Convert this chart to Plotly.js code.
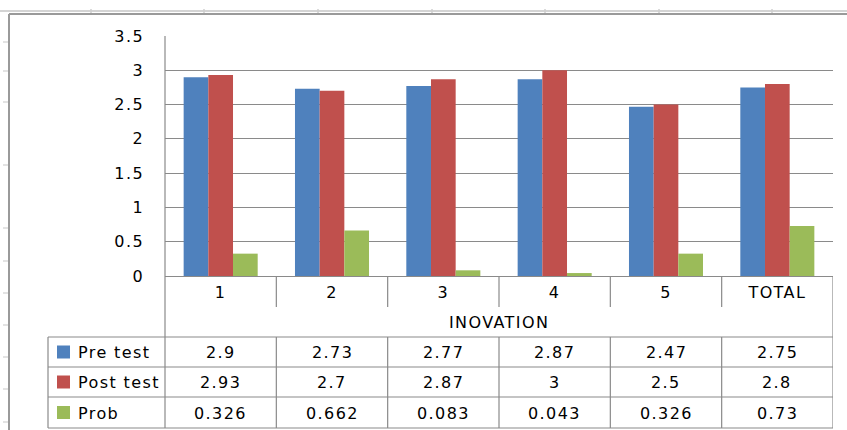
<!DOCTYPE html>
<html>
<head>
<meta charset="utf-8">
<script src="https://cdn.plot.ly/plotly-3.0.1.min.js"></script>
<style>
  html, body { margin: 0; padding: 0; background: #fff; }
  #chart { width: 847px; height: 430px; }
  /* applied page-wide so Plotly's text measurement sees the same spacing */
  svg text { letter-spacing: 1.4px; }
</style>
</head>
<body>
<div id="chart"></div>
<script>
// Scores per innovation item, with the total column
const categories = ['1', '2', '3', '4', '5', 'TOTAL'];
const preTest = [2.9, 2.73, 2.77, 2.87, 2.47, 2.75];
const postTest = [2.93, 2.7, 2.87, 3, 2.5, 2.8];
const prob = [0.326, 0.662, 0.083, 0.043, 0.326, 0.73];
const seriesNames = ['Pre test', 'Post test', 'Prob'];
const axisTitle = 'INOVATION';

const seriesValues = [preTest, postTest, prob];
const seriesColors = ['#4F81BD', '#C0504D', '#9BBB59'];

// Page geometry (pixels) of the plotting area
const W = 847, H = 430;
const L = 165, R = 833, T = 36, B = 276;
const px = x => (x - L) / (R - L);
const py = y => (B - y) / (B - T);

const lineColor = '#8a8a8a';
const font = { family: 'DejaVu Sans, Verdana, sans-serif', size: 16, color: '#000' };

const traces = seriesValues.map((vals, i) => ({
  type: 'bar',
  name: seriesNames[i],
  x: categories,
  y: vals,
  marker: { color: seriesColors[i], line: { width: 0 } },
  hoverinfo: 'x+y+name'
}));

const shapes = [];
const annotations = [];
const line = (s) => shapes.push(Object.assign({ type: 'line', layer: 'above', line: { color: lineColor, width: 1.2 } }, s));

// Spreadsheet backdrop: column ruler and row ticks
shapes.push({ type: 'line', xref: 'paper', yref: 'paper', x0: px(0), x1: px(W), y0: py(11), y1: py(11),
  line: { color: '#d4d4d4', width: 2 } });
[91, 204, 318, 432, 545, 659, 772].forEach(x => shapes.push({ type: 'line', xref: 'paper', yref: 'paper',
  x0: px(x), x1: px(x), y0: py(9), y1: py(14), line: { color: '#cfcfcf', width: 1.5 } }));
[42, 71, 102, 165, 228, 261, 293, 325, 357, 389, 422].forEach(y => shapes.push({ type: 'line', xref: 'paper', yref: 'paper',
  x0: px(3), x1: px(8), y0: py(y), y1: py(y), line: { color: '#d0d0d0', width: 1.2 } }));

// Chart frame
line({ xref: 'paper', yref: 'paper', x0: px(9), x1: px(9), y0: py(14), y1: py(H + 2), line: { color: '#9a9a9a', width: 2 } });
line({ xref: 'paper', yref: 'paper', x0: px(9), x1: px(W + 2), y0: py(14), y1: py(14), line: { color: '#9a9a9a', width: 2 } });

// Category row separators under the axis
const n = categories.length;
for (let i = 0; i < n - 1; i++) {
  line({ xref: 'x', yref: 'paper', x0: i + 0.5, x1: i + 0.5, y0: py(B), y1: py(307) });
}
// Left edge of the plot and table, right edge of the table
line({ xref: 'paper', yref: 'paper', x0: 0, x1: 0, y0: py(T), y1: py(428) });
line({ xref: 'x', yref: 'paper', x0: n - 0.5, x1: n - 0.5, y0: py(B), y1: py(428) });

// Data table
const rowLines = [337, 367, 397, 428];
rowLines.forEach(y => line({ xref: 'paper', yref: 'paper', x0: px(48), x1: 1, y0: py(y), y1: py(y) }));
line({ xref: 'paper', yref: 'paper', x0: px(48), x1: px(48), y0: py(337), y1: py(428) });
for (let i = 0; i < n - 1; i++) {
  line({ xref: 'x', yref: 'paper', x0: i + 0.5, x1: i + 0.5, y0: py(337), y1: py(428) });
}

seriesValues.forEach((vals, r) => {
  const yc = (rowLines[r] + rowLines[r + 1]) / 2;
  // legend key and series name
  shapes.push({ type: 'rect', xref: 'paper', yref: 'paper', layer: 'above',
    x0: px(57), x1: px(70), y0: py(yc - 6.5), y1: py(yc + 6.5),
    fillcolor: seriesColors[r], line: { width: 0 } });
  annotations.push({ xref: 'paper', yref: 'paper', x: px(76), y: py(yc + 0.5),
    xanchor: 'left', yanchor: 'middle', showarrow: false, text: seriesNames[r], font });
  // values, one cell per category (placed by category index)
  vals.forEach((v, c) => annotations.push({ xref: 'x', yref: 'paper', x: c, y: py(yc + 0.5),
    xanchor: 'center', yanchor: 'middle', showarrow: false, text: String(v), font }));
});

// Axis title row
annotations.push({ xref: 'paper', yref: 'paper', x: 0.5, y: py(322), xanchor: 'center', yanchor: 'middle',
  showarrow: false, text: axisTitle, font });

const layout = {
  width: W, height: H,
  margin: { l: L, r: W - R, t: T, b: H - B, pad: 0 },
  paper_bgcolor: '#fff', plot_bgcolor: '#fff',
  showlegend: false,
  barmode: 'group', bargap: 0.335, bargroupgap: 0,
  font,
  xaxis: {
    type: 'category', categoryorder: 'array', categoryarray: categories,
    range: [-0.5, n - 0.5],
    showgrid: false, zeroline: false, showline: true, linecolor: lineColor, linewidth: 1.2,
    ticks: '', ticklabelstandoff: 2, tickfont: font
  },
  yaxis: {
    range: [0, 3.5], dtick: 0.5, tick0: 0,
    showgrid: true, gridcolor: lineColor, gridwidth: 1.2,
    zeroline: false, showline: false,
    ticks: '', ticklabelstandoff: 20, tickfont: font
  },
  shapes, annotations
};

Plotly.newPlot('chart', traces, layout, { displayModeBar: false, staticPlot: true });
</script>
</body>
</html>
